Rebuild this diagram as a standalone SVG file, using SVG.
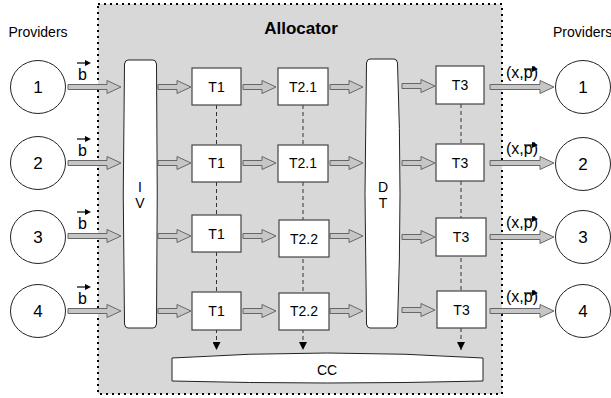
<svg xmlns="http://www.w3.org/2000/svg" width="611" height="398" viewBox="0 0 611 398">
<defs>
<style>
.lbl{font-family:"Liberation Sans",Arial,sans-serif;fill:#000;text-anchor:middle}
.num{font-size:17px}
.t{font-size:14px}
.box{fill:#fff;stroke:#444;stroke-width:1.2}
.circ{fill:#fff;stroke:#222;stroke-width:1}
.shape{fill:#fff;stroke:#222;stroke-width:1}
.blk{fill:#c6c6c6;stroke:#666;stroke-width:1}
.dash{fill:none;stroke:#333;stroke-width:1;stroke-dasharray:4 3}
.vec{fill:none;stroke:#000;stroke-width:1.2}
</style>
<marker id="ah" viewBox="0 0 8 8" refX="8" refY="4" markerWidth="8" markerHeight="8" markerUnits="userSpaceOnUse" orient="auto"><path d="M0,0 L8,4 L0,8 Z" fill="#000"/></marker>
<polygon id="sa" points="0,-2.5 19,-2.5 19,-6.5 33,0 19,6.5 19,2.5 0,2.5"/>
<polygon id="ia" points="0,-2.5 39,-2.5 39,-6.5 53,0 39,6.5 39,2.5 0,2.5"/>
<polygon id="oa" points="0,-2.5 50,-2.5 50,-6.5 64,0 50,6.5 50,2.5 0,2.5"/>
<g id="bv"><text class="lbl" x="82.5" y="0" style="font-size:16px">b</text><path class="vec" d="M77,-17 H86"/><polygon points="85,-20 91,-17 85,-14" fill="#000"/></g>
<g id="pv"><text class="lbl" x="522" y="0" style="font-size:16px">(x,p)</text><path class="vec" d="M524,-9 H533"/><polygon points="532,-12 538,-9 532,-6" fill="#000"/></g>
</defs>

<g id="allocator">
<rect x="98" y="4" width="404" height="390" fill="#d8d8d8" stroke="#000" stroke-width="2" stroke-dasharray="2 4"/>
<text class="lbl" x="301" y="34" style="font-size:17px;font-weight:bold">Allocator</text>
</g>

<text class="lbl" x="38" y="37" style="font-size:14px">Providers</text>
<text class="lbl" x="553" y="37" style="font-size:14px;text-anchor:start">Providers</text>

<g id="connectors">
<path class="dash" d="M216.5,105 V350" marker-end="url(#ah)"/>
<path class="dash" d="M303,105 V350" marker-end="url(#ah)"/>
<path class="dash" d="M461,104 V350" marker-end="url(#ah)"/>
<g class="blk">
<use href="#ia" x="68" y="87"/><use href="#ia" x="68" y="163"/><use href="#ia" x="68" y="236"/><use href="#ia" x="68" y="311"/>
<use href="#sa" x="158" y="87"/><use href="#sa" x="158" y="163"/><use href="#sa" x="158" y="236"/><use href="#sa" x="158" y="311"/>
<use href="#sa" x="243" y="87"/><use href="#sa" x="243" y="163"/><use href="#sa" x="243" y="236"/><use href="#sa" x="243" y="311"/>
<use href="#sa" x="330" y="87"/><use href="#sa" x="330" y="163"/><use href="#sa" x="330" y="236"/><use href="#sa" x="330" y="311"/>
<use href="#sa" x="402" y="86"/><use href="#sa" x="402" y="163"/><use href="#sa" x="402" y="237"/><use href="#sa" x="402" y="310"/>
<use href="#oa" x="490" y="87"/><use href="#oa" x="490" y="163"/><use href="#oa" x="490" y="237"/><use href="#oa" x="490" y="311"/>
</g>
<use href="#bv" x="0" y="80"/><use href="#bv" x="0" y="156"/><use href="#bv" x="0" y="229"/><use href="#bv" x="0" y="304"/>
<use href="#pv" x="0" y="78"/><use href="#pv" x="0" y="154"/><use href="#pv" x="0" y="228"/><use href="#pv" x="0" y="302"/>
</g>

<g id="p1"><ellipse class="circ" cx="38" cy="87" rx="27.5" ry="26.5"/><text class="lbl num" x="38" y="93">1</text></g>
<g id="p2"><ellipse class="circ" cx="38" cy="163" rx="27.5" ry="26.5"/><text class="lbl num" x="38" y="169">2</text></g>
<g id="p3"><ellipse class="circ" cx="38" cy="237" rx="27.5" ry="26.5"/><text class="lbl num" x="38" y="243">3</text></g>
<g id="p4"><ellipse class="circ" cx="38" cy="311" rx="27.5" ry="26.5"/><text class="lbl num" x="38" y="317">4</text></g>

<g id="r1"><ellipse class="circ" cx="583" cy="87" rx="27.5" ry="26.5"/><text class="lbl num" x="583" y="93">1</text></g>
<g id="r2"><ellipse class="circ" cx="583" cy="164" rx="27.5" ry="26.5"/><text class="lbl num" x="583" y="170">2</text></g>
<g id="r3"><ellipse class="circ" cx="583" cy="237" rx="27.5" ry="26.5"/><text class="lbl num" x="583" y="243">3</text></g>
<g id="r4"><ellipse class="circ" cx="583" cy="311" rx="27.5" ry="26.5"/><text class="lbl num" x="583" y="317">4</text></g>

<g id="iv"><path class="shape" d="M128,60 L153,60 Q156,60 156.5,64 Q158,194 156.5,324 Q156,328 153,328 L128,328 Q125,328 124.5,324 Q122,194 124.5,64 Q125,60 128,60 Z"/>
<text class="lbl t" x="140" y="192">I</text><text class="lbl t" x="140" y="208">V</text></g>

<g id="dt"><path class="shape" d="M370,59 L394,59 Q397,59 397.5,63 Q402.5,194 397.5,324 Q397,328 394,328 L370,328 Q367,328 366.5,324 Q363.5,194 366.5,63 Q367,59 370,59 Z"/>
<text class="lbl t" x="383" y="192">D</text><text class="lbl t" x="383" y="208">T</text></g>

<g id="cc"><path class="shape" d="M172,358 Q327,348 483,358 L483,381 Q327,385 172,381 Z"/>
<text class="lbl t" x="327" y="375">CC</text></g>

<g id="t1a"><rect class="box" x="192" y="68" width="49" height="37"/><text class="lbl t" x="216.5" y="92">T1</text></g>
<g id="t1b"><rect class="box" x="192" y="145" width="49" height="37"/><text class="lbl t" x="216.5" y="168">T1</text></g>
<g id="t1c"><rect class="box" x="192" y="215" width="49" height="37"/><text class="lbl t" x="216.5" y="239">T1</text></g>
<g id="t1d"><rect class="box" x="192" y="292" width="49" height="38"/><text class="lbl t" x="216.5" y="316">T1</text></g>

<g id="t2a"><rect class="box" x="278" y="68" width="50" height="37"/><text class="lbl t" x="303" y="92">T2.1</text></g>
<g id="t2b"><rect class="box" x="278" y="145" width="50" height="37"/><text class="lbl t" x="303" y="168">T2.1</text></g>
<g id="t2c"><rect class="box" x="279" y="220" width="50" height="37"/><text class="lbl t" x="304" y="244">T2.2</text></g>
<g id="t2d"><rect class="box" x="279" y="293" width="50" height="37"/><text class="lbl t" x="304" y="316">T2.2</text></g>

<g id="t3a"><rect class="box" x="436" y="66" width="48" height="38"/><text class="lbl t" x="460" y="90">T3</text></g>
<g id="t3b"><rect class="box" x="436" y="144" width="48" height="37"/><text class="lbl t" x="460" y="168">T3</text></g>
<g id="t3c"><rect class="box" x="436" y="218" width="50" height="38"/><text class="lbl t" x="461" y="242">T3</text></g>
<g id="t3d"><rect class="box" x="437" y="291" width="49" height="37"/><text class="lbl t" x="461.5" y="315">T3</text></g>
</svg>
